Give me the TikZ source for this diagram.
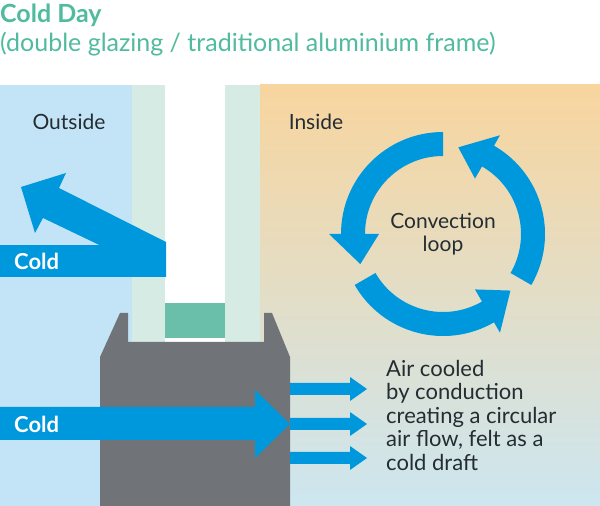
\documentclass[tikz,border=0pt]{standalone}
\usepackage{fontspec}
\setmainfont{Lato}
\usetikzlibrary{calc}
\definecolor{teal}{RGB}{80,187,158}
\definecolor{outblue}{RGB}{195,228,247}
\definecolor{glass}{RGB}{214,235,228}
\definecolor{frame}{RGB}{112,115,119}
\definecolor{spacer}{RGB}{106,191,170}
\definecolor{warm}{RGB}{248,213,158}
\definecolor{cool}{RGB}{205,230,240}
\definecolor{arrowblue}{RGB}{0,152,221}
\definecolor{txt}{RGB}{35,45,50}
\tikzset{
  lbl/.style={text=txt,font=\fontsize{21}{23.5}\selectfont,inner sep=0pt},
  cold/.style={text=white,font=\fontsize{22}{24}\selectfont\bfseries,inner sep=0pt,anchor=west},
  arr/.style={fill=arrowblue,draw=none},
}
\newcommand{\loopArrow}[3]{%
  \fill[arrowblue] ($(C)+(#1:102)$) arc[start angle=#1,end angle=#2,radius=102]
    -- ($(C)+(#2:114)$) -- ($(C)+(#3:88)$) -- ($(C)+(#2:64)$) -- ($(C)+(#2:78)$)
    arc[start angle=#2,end angle=#1,radius=78] -- cycle;}
\begin{document}
\begin{tikzpicture}[x=1pt,y=1pt]
\useasboundingbox (0,0) rectangle (600,506);
\fill[white] (0,0) rectangle (600,506);
\node[anchor=west,text=teal,font=\fontsize{25}{28}\selectfont\bfseries,inner sep=0pt] (title) at (0,491) {Cold Day};
\node[anchor=west,text=teal,font=\fontsize{25}{28}\selectfont,inner sep=0pt] (sub) at (0,462) {(double glazing / traditional aluminium frame)};
% backgrounds
\fill[outblue] (0,0) rectangle (132,421);
\shade[top color=warm,bottom color=cool] (260,0) rectangle (600,421);
\fill[glass] (132,164) rectangle (165,421);
\fill[glass] (225,164) rectangle (260,421);
\fill[spacer] (165,168) rectangle (225,203);
% frame
\fill[frame] (100,0) -- (100,149) -- (120,193) -- (128,193) -- (128,164) -- (264,164) -- (264,193) -- (272,193) -- (290,149) -- (290,0) -- cycle;
% labels
\node[lbl] (out) at (69,384) {Outside};
\node[lbl] (in) at (316,384) {Inside};
% upper cold arrow
\fill[arr] (0,229) rectangle (166,261);
\fill[arr] (166,264) -- (59,318) -- (66,333) -- (21,319) -- (35,273) -- (43,288) -- (166,229) -- cycle;
\node[cold] (c1) at (14,245) {Cold};
% lower cold arrow
\fill[arr] (0,66) -- (255,66) -- (255,48) -- (290,82) -- (255,116) -- (255,99) -- (0,99) -- cycle;
\node[cold] (c2) at (14,82) {Cold};
% small arrows
\foreach \yy in {117,82,48}{
  \fill[arr] (290,\yy-6) -- (350,\yy-6) -- (350,\yy-12) -- (367,\yy) -- (350,\yy+12) -- (350,\yy+6) -- (290,\yy+6) -- cycle;
}
\node[lbl,anchor=north west,align=left,font=\fontsize{22}{23.5}\selectfont] (air) at (386,146) {Air cooled\\by conduction\\creating a circular\\air flow, felt as a\\cold draft};
% convection loop
\coordinate (C) at (443,272);
\loopArrow{90}{180}{200}
\loopArrow{-30}{60}{80}
\loopArrow{210}{300}{320}
\node[lbl,align=center] (conv) at (443,272) {Convection\\loop};
\end{tikzpicture}
\end{document}
